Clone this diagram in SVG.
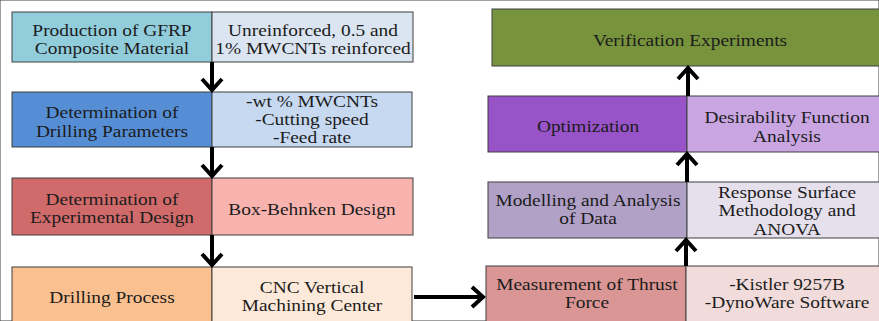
<svg xmlns="http://www.w3.org/2000/svg" width="879" height="321" viewBox="0 0 879 321">
<style>
rect{stroke:#3f3f3f;stroke-width:1}
text{font-family:"Liberation Serif","Times New Roman",serif;font-size:17px;fill:#1c1c1c;text-anchor:middle}
.c{stroke:#000;stroke-width:4;fill:none;stroke-linecap:butt;stroke-linejoin:miter}
</style>
<rect x="0" y="0" width="879" height="321" fill="#fff" stroke="none"/>
<g id="n1">
<rect x="12" y="12" width="200" height="50" fill="#92CDDC"/>
<rect x="212" y="12" width="201" height="50" fill="#DBE5F1"/>
<text transform="translate(112 36) scale(1.14 1)">Production of GFRP</text>
<text transform="translate(112 54) scale(1.14 1)">Composite Material</text>
<text transform="translate(313 36) scale(1.14 1)">Unreinforced, 0.5 and</text>
<text transform="translate(313 54) scale(1.14 1)">1% MWCNTs reinforced</text>
</g>
<g id="n2">
<rect x="12" y="92" width="200" height="55" fill="#558ED5"/>
<rect x="212" y="92" width="200" height="55" fill="#C6D9F1"/>
<text transform="translate(112 118) scale(1.14 1)">Determination of</text>
<text transform="translate(112 137) scale(1.14 1)">Drilling Parameters</text>
<text transform="translate(312 107) scale(1.14 1)">-wt % MWCNTs</text>
<text transform="translate(312 125) scale(1.14 1)">-Cutting speed</text>
<text transform="translate(312 143) scale(1.14 1)">-Feed rate</text>
</g>
<g id="n3">
<rect x="12" y="178" width="200" height="57" fill="#D16B6B"/>
<rect x="212" y="178" width="201" height="57" fill="#F8B3AE"/>
<text transform="translate(112 205) scale(1.14 1)">Determination of</text>
<text transform="translate(112 223) scale(1.14 1)">Experimental Design</text>
<text transform="translate(312 215) scale(1.14 1)">Box-Behnken Design</text>
</g>
<g id="n4">
<rect x="12" y="267" width="200" height="60" fill="#FAC090"/>
<rect x="212" y="267" width="200" height="60" fill="#FDE9D9"/>
<text transform="translate(112 303) scale(1.14 1)">Drilling Process</text>
<text transform="translate(312 293) scale(1.14 1)">CNC Vertical</text>
<text transform="translate(312 311) scale(1.14 1)">Machining Center</text>
</g>
<g id="n5">
<rect x="486" y="266" width="200" height="60" fill="#D99694"/>
<rect x="686" y="266" width="200" height="60" fill="#F2DCDB"/>
<text transform="translate(587 290) scale(1.14 1)">Measurement of Thrust</text>
<text transform="translate(587 308) scale(1.14 1)">Force</text>
<text transform="translate(787 290) scale(1.14 1)">-Kistler 9257B</text>
<text transform="translate(787 308) scale(1.14 1)">-DynoWare Software</text>
</g>
<g id="n6">
<rect x="488" y="182" width="199" height="56" fill="#B2A1C7"/>
<rect x="687" y="182" width="199" height="56" fill="#E5E0EC"/>
<text transform="translate(588 206) scale(1.14 1)">Modelling and Analysis</text>
<text transform="translate(588 224) scale(1.14 1)">of Data</text>
<text transform="translate(787 198) scale(1.14 1)">Response Surface</text>
<text transform="translate(787 216) scale(1.14 1)">Methodology and</text>
<text transform="translate(787 235) scale(1.14 1)">ANOVA</text>
</g>
<g id="n7">
<rect x="488" y="96" width="199" height="56" fill="#9853C8"/>
<rect x="687" y="96" width="199" height="56" fill="#C9A6E2"/>
<text transform="translate(588 132) scale(1.14 1)">Optimization</text>
<text transform="translate(787 123) scale(1.14 1)">Desirability Function</text>
<text transform="translate(787 142) scale(1.14 1)">Analysis</text>
</g>
<g id="n8">
<rect x="492" y="9" width="394" height="57" fill="#77933C"/>
<text transform="translate(690 46) scale(1.14 1)">Verification Experiments</text>
</g>
<g id="connectors">
<path class="c" d="M212 62V90M202 79L212 90L222 79"/>
<path class="c" d="M212 147V176M202 165L212 176L222 165"/>
<path class="c" d="M212 235V265M202 254L212 265L222 254"/>
<path class="c" d="M414 297H483M472 287L483 297L472 307"/>
<path class="c" d="M686 266V240M676 251L686 240L696 251"/>
<path class="c" d="M687 182V154M677 165L687 154L697 165"/>
<path class="c" d="M688 96V68M678 79L688 68L698 79"/>
</g>
</svg>
